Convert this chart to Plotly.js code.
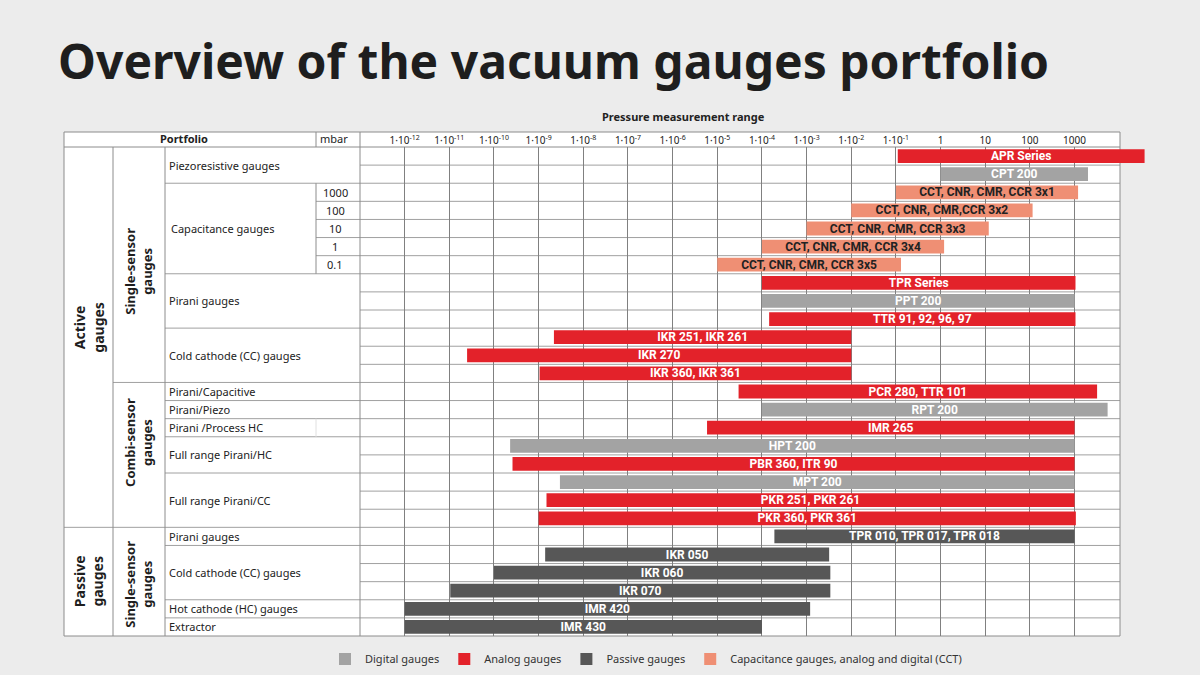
<!DOCTYPE html>
<html>
<head>
<meta charset="utf-8">
<script src="https://cdn.plot.ly/plotly-3.0.1.min.js"></script>
<style>
  html, body { margin: 0; padding: 0; background: #ececec; }
  #graph { width: 1200px; height: 675px; }
</style>
</head>
<body>
<div id="graph"></div>
<script>
// one row per gauge, top to bottom, ranges in mbar
const gaugeNames = [
    'APR Series', 'CPT 200',
    'CCT, CNR, CMR, CCR 3x1', 'CCT, CNR, CMR,CCR 3x2', 'CCT, CNR, CMR, CCR 3x3',
    'CCT, CNR, CMR, CCR 3x4', 'CCT, CNR, CMR, CCR 3x5',
    'TPR Series', 'PPT 200', 'TTR 91, 92, 96, 97',
    'IKR 251, IKR 261', 'IKR 270', 'IKR 360, IKR 361',
    'PCR 280, TTR 101', 'RPT 200', 'IMR 265',
    'HPT 200', 'PBR 360, ITR 90',
    'MPT 200', 'PKR 251, PKR 261', 'PKR 360, PKR 361',
    'TPR 010, TPR 017, TPR 018',
    'IKR 050', 'IKR 060', 'IKR 070',
    'IMR 420', 'IMR 430'
];
const rangeLow = [
    0.11, 1,
    0.1, 0.01, 1e-3, 1e-4, 1e-5,
    1e-4, 1e-4, 1.45e-4,
    2.2e-9, 2.5e-11, 1.05e-9,
    3e-5, 1e-4, 5.9e-6,
    2.3e-10, 2.6e-10,
    3e-9, 1.5e-9, 1e-9,
    1.9e-4,
    1.4e-9, 1e-10, 1.05e-11,
    1e-12, 1e-12
];
const rangeHigh = [
    37000, 2000,
    1200, 115, 12, 1.2, 0.13,
    1050, 1000, 1050,
    0.01, 0.01, 0.01,
    3200, 5500, 1000,
    1000, 1000,
    1000, 1000, 1070,
    1000,
    3.2e-3, 3.4e-3, 3.4e-3,
    1.2e-3, 1e-4
];
const gaugeKind = [
    'analog', 'digital',
    'cct', 'cct', 'cct', 'cct', 'cct',
    'analog', 'digital', 'analog',
    'analog', 'analog', 'analog',
    'analog', 'digital', 'analog',
    'digital', 'analog',
    'digital', 'analog', 'analog',
    'passive',
    'passive', 'passive', 'passive',
    'passive', 'passive'
];

const kindOrder = ['digital', 'analog', 'passive', 'cct'];
const kindNames = {
    digital: 'Digital gauges',
    analog: 'Analog gauges',
    passive: 'Passive gauges',
    cct: 'Capacitance gauges, analog and digital (CCT)'
};
const kindColors = { digital: '#a3a3a3', analog: '#e3222a', passive: '#575757', cct: '#ef8f74' };
const kindText = { digital: '#ffffff', analog: '#ffffff', passive: '#ffffff', cct: '#222222' };

const decadeTicks = [1e-12, 1e-11, 1e-10, 1e-9, 1e-8, 1e-7, 1e-6, 1e-5, 1e-4, 1e-3, 1e-2, 1e-1, 1, 10, 100, 1000];
const decadeLabels = [
    '1·10<sup>-12</sup>', '1·10<sup>-11</sup>', '1·10<sup>-10</sup>', '1·10<sup>-9</sup>',
    '1·10<sup>-8</sup>', '1·10<sup>-7</sup>', '1·10<sup>-6</sup>', '1·10<sup>-5</sup>',
    '1·10<sup>-4</sup>', '1·10<sup>-3</sup>', '1·10<sup>-2</sup>', '1·10<sup>-1</sup>',
    '1', '10', '100', '1000'
];

// left side of the table
const groupLabels = ['Active<br>gauges', 'Passive<br>gauges'];
const groupRows = [[0, 21], [21, 27]];
const sensorLabels = ['Single-sensor<br>gauges', 'Combi-sensor<br>gauges', 'Single-sensor<br>gauges'];
const sensorRows = [[0, 13], [13, 21], [21, 27]];
const typeLabels = [
    'Piezoresistive gauges', 'Capacitance gauges', 'Pirani gauges', 'Cold cathode (CC) gauges',
    'Pirani/Capacitive', 'Pirani/Piezo', 'Pirani /Process HC', 'Full range Pirani/HC',
    'Full range Pirani/CC', 'Pirani gauges', 'Cold cathode (CC) gauges',
    'Hot cathode (HC) gauges', 'Extractor'
];
const typeRows = [[0, 2], [2, 7], [7, 10], [10, 13], [13, 14], [14, 15], [15, 16], [16, 18],
    [18, 21], [21, 22], [22, 25], [25, 26], [26, 27]];
const fullScale = ['1000', '100', '10', '1', '0.1'];
const fullScaleRow0 = 2;

const NROWS = gaugeNames.length;
const L = 360, R = 54, T = 147, B = 39;
const W = 1200 - L - R, H = 675 - T - B;
const TABLE_L = 64, TABLE_R = 1120, TABLE_TOP = 132, MBAR_X = 316, COL2_X = 113, COL3_X = 165;
const LINE = '#8c8c8c';
const barFont = 'Roboto, "Noto Sans", sans-serif';

function px(x){ return (x - L) / W; }
function py(y){ return (675 - B - y) / H; }
function rowY(k){ return 1 - k / NROWS; }
function rowPx(k){ return T + k * H / NROWS; }

let traces = kindOrder.map(kind => {
    let idx = gaugeKind.map((k, i) => k === kind ? i : -1).filter(i => i >= 0);
    return {
        type: 'bar',
        orientation: 'h',
        name: kindNames[kind],
        y: idx,
        base: idx.map(i => rangeLow[i]),
        x: idx.map(i => rangeHigh[i] - rangeLow[i]),
        text: idx.map(i => gaugeNames[i]),
        textposition: 'inside',
        insidetextanchor: 'middle',
        constraintext: 'none',
        textangle: 0,
        textfont: { family: barFont, size: 12, color: kindText[kind], weight: 'bold' },
        marker: { color: kindColors[kind], line: { width: 0 } },
        width: 0.76,
        hoverinfo: 'skip'
    };
});

let shapes = [];
function line(x0, y0, x1, y1, color, w){
    shapes.push({ type: 'line', xref: 'paper', yref: 'paper', x0: x0, y0: y0, x1: x1, y1: y1,
        line: { color: color || LINE, width: w || 1 }, layer: 'below' });
}
// table background
shapes.push({ type: 'rect', xref: 'paper', yref: 'paper', x0: px(TABLE_L), x1: px(TABLE_R),
    y0: rowY(NROWS), y1: py(TABLE_TOP), fillcolor: '#ffffff', line: { width: 0 }, layer: 'below' });

// row separators, starting further left where a group boundary is
const typeStarts = typeRows.map(r => r[0]);
for (let k = 1; k < NROWS; k++) {
    let x0 = L;
    if (groupRows.some(r => r[0] === k)) x0 = TABLE_L;
    else if (sensorRows.some(r => r[0] === k)) x0 = COL2_X;
    else if (typeStarts.indexOf(k) >= 0) x0 = COL3_X;
    else if (k > fullScaleRow0 && k < fullScaleRow0 + fullScale.length) x0 = MBAR_X;
    line(px(x0), rowY(k), px(TABLE_R), rowY(k), '#a0a0a0');
}
// outer border and header
line(px(TABLE_L), py(TABLE_TOP), px(TABLE_R), py(TABLE_TOP));
line(px(TABLE_L), rowY(0), px(TABLE_R), rowY(0));
line(px(TABLE_L), rowY(NROWS), px(TABLE_R), rowY(NROWS));
line(px(TABLE_L), py(TABLE_TOP), px(TABLE_L), rowY(NROWS));
line(px(TABLE_R), py(TABLE_TOP), px(TABLE_R), rowY(NROWS));
line(px(L), py(TABLE_TOP), px(L), rowY(NROWS));
line(px(COL2_X), rowY(0), px(COL2_X), rowY(NROWS));
line(px(COL3_X), rowY(0), px(COL3_X), rowY(NROWS));
line(px(MBAR_X), py(TABLE_TOP), px(MBAR_X), rowY(0));
line(px(MBAR_X), rowY(fullScaleRow0), px(MBAR_X), rowY(fullScaleRow0 + fullScale.length));
line(px(MBAR_X), rowY(15), px(MBAR_X), rowY(16), '#e0e0e0');

let annotations = [];
function label(text, x, y, opts){
    annotations.push(Object.assign({
        text: text, xref: 'paper', yref: 'paper', x: px(x), y: py(y),
        showarrow: false, xanchor: 'left', yanchor: 'middle',
        font: { size: 11, color: '#222222' }
    }, opts || {}));
}
label('Pressure measurement range', 683, 117, { xanchor: 'center', font: { size: 11, color: '#222', weight: 'bold' } });
label('Portfolio', 184, 139, { xanchor: 'center', font: { size: 11, color: '#222', weight: 'bold' } });
label('mbar', 318, 139);

const groupShift = [-10, 0];
groupLabels.forEach((t, i) => {
    let yc = (rowPx(groupRows[i][0]) + rowPx(groupRows[i][1])) / 2 + groupShift[i];
    label(t, (TABLE_L + COL2_X) / 2, yc, { xanchor: 'center', textangle: -90,
        font: { size: 14, color: '#1e1e1e', weight: 'bold' } });
});
const sensorShift = [7, -12, 3];
sensorLabels.forEach((t, i) => {
    let yc = (rowPx(sensorRows[i][0]) + rowPx(sensorRows[i][1])) / 2 + sensorShift[i];
    label(t, (COL2_X + COL3_X) / 2, yc, { xanchor: 'center', textangle: -90,
        font: { size: 13, color: '#1e1e1e', weight: 'bold' } });
});
typeLabels.forEach((t, i) => {
    let yc = (rowPx(typeRows[i][0]) + rowPx(typeRows[i][1])) / 2;
    label(t, i === 1 ? 169 : 167, yc);
});
fullScale.forEach((t, i) => {
    let yc = (rowPx(fullScaleRow0 + i) + rowPx(fullScaleRow0 + i + 1)) / 2;
    label(t, 335, yc, { xanchor: 'center' });
});

let layout = {
    width: 1200,
    height: 675,
    margin: { l: L, r: R, t: T, b: B, pad: 0, autoexpand: false },
    paper_bgcolor: '#ececec',
    plot_bgcolor: 'rgba(0,0,0,0)',
    font: { family: '"Noto Sans", sans-serif', color: '#222222' },
    title: {
        text: 'Overview of the vacuum gauges portfolio',
        xref: 'container', yref: 'container',
        x: 58 / 1200, xanchor: 'left',
        y: 1 - 62 / 675, yanchor: 'middle',
        font: { size: 48, color: '#1e1e1e', weight: 'bold' }
    },
    barmode: 'overlay',
    showlegend: true,
    legend: {
        orientation: 'h',
        x: px(646), xanchor: 'center',
        y: py(659), yanchor: 'middle',
        font: { family: '"Noto Sans", sans-serif', size: 11, color: '#333333' },
        bgcolor: 'rgba(0,0,0,0)',
        traceorder: 'normal',
        itemclick: false, itemdoubleclick: false
    },
    xaxis: {
        type: 'log',
        range: [-13, 4.6],
        side: 'top',
        tickvals: decadeTicks,
        ticktext: decadeLabels,
        ticks: '',
        tickfont: { size: 10, color: '#222222' },
        showgrid: true,
        gridcolor: '#808080',
        gridwidth: 1,
        zeroline: false,
        showline: false,
        fixedrange: true
    },
    yaxis: {
        range: [NROWS - 0.5, -0.5],
        showgrid: false,
        showticklabels: false,
        zeroline: false,
        fixedrange: true
    },
    shapes: shapes,
    annotations: annotations
};

Plotly.newPlot('graph', traces, layout, { displayModeBar: false, staticPlot: true });
</script>
</body>
</html>
